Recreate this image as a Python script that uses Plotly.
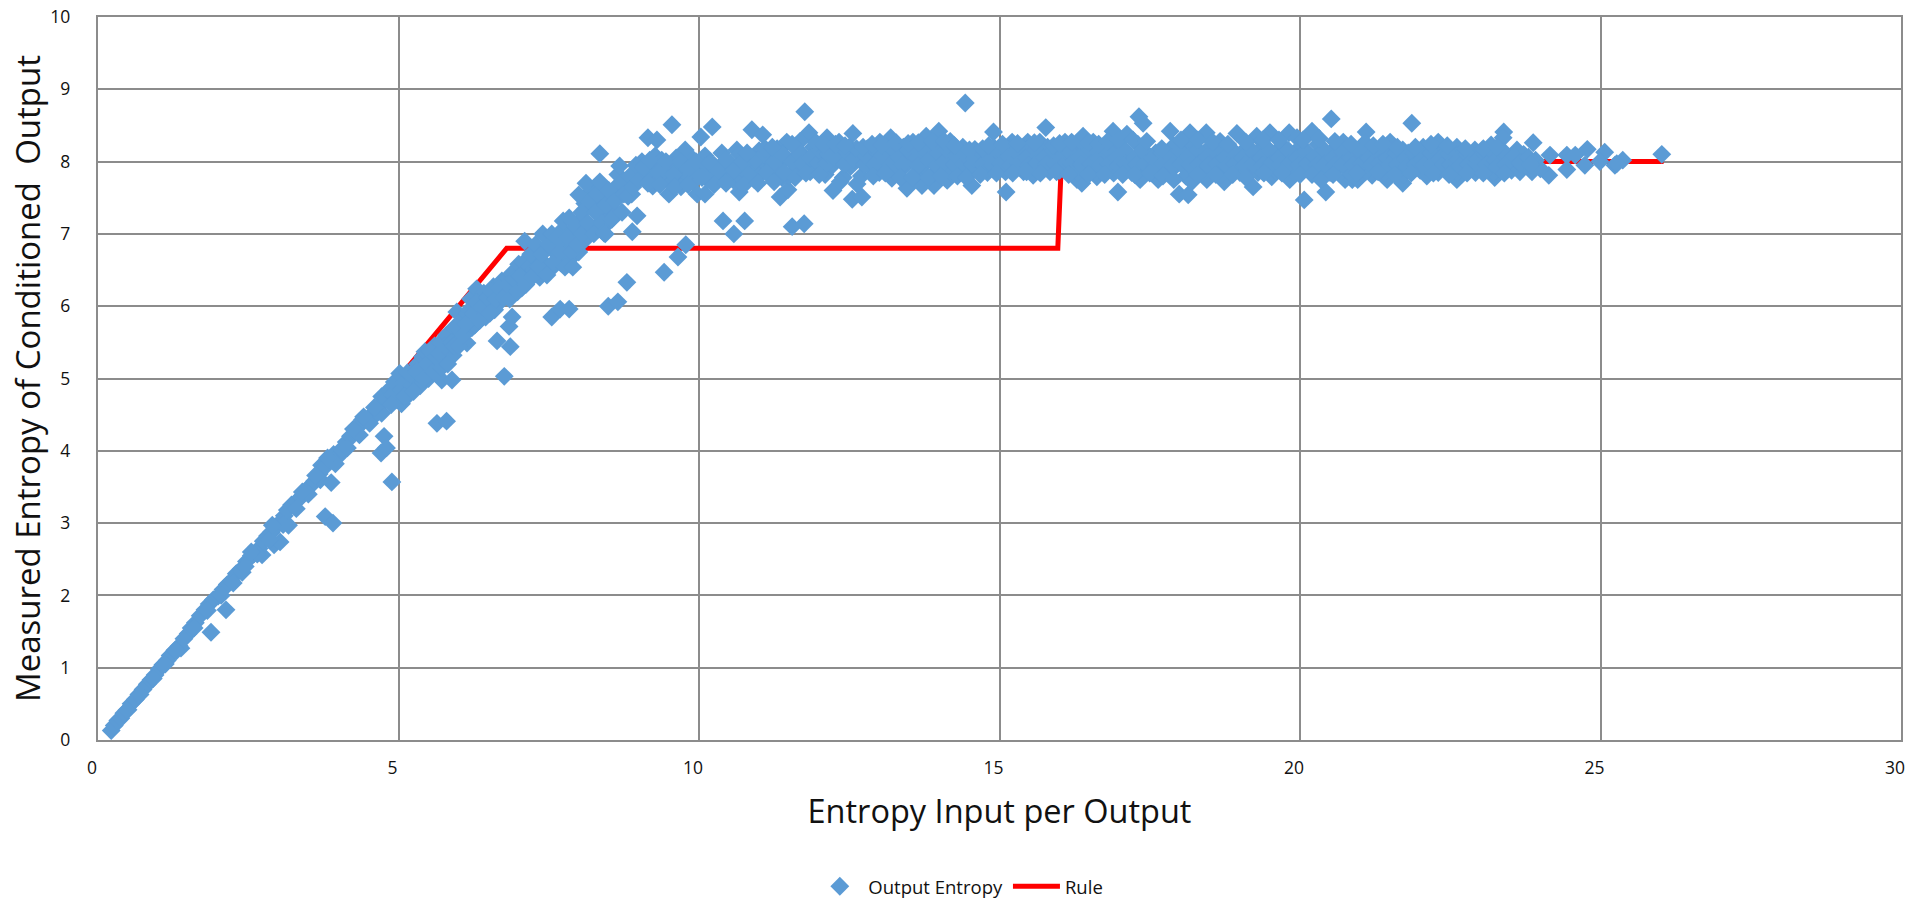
import plotly.graph_objects as go

# (entropy input, measured entropy)
ramp_a = [(0.22,0.13),(0.27,0.2),(0.33,0.27),(0.38,0.3),(0.43,0.37),(0.5,0.42),(0.55,0.5),(0.62,0.56),(0.68,0.63),(0.75,0.7),
(0.82,0.77),(0.88,0.83),(0.95,0.9),(1.02,0.98),(1.08,1.04),(1.15,1.1),(1.2,1.17),(1.28,1.24),(1.35,1.3),(1.38,1.27),
(1.43,1.4),(1.5,1.47),(1.55,1.55),(1.62,1.62),(1.7,1.72),(1.78,1.8),(1.85,1.88),(1.92,1.94),(2.0,1.99),(2.08,2.08),
(2.15,2.15),(2.22,2.2),(2.3,2.3),(2.38,2.36),(2.4,2.32),(2.47,2.47),(2.55,2.55)]
ramp_b = [(2.6,2.58),(2.68,2.65),(2.73,2.56),(2.75,2.75),(2.82,2.82),(2.88,2.87),(2.93,2.7),(2.95,2.95),(3.03,2.74),(3.02,3.0),
(3.1,3.1),(3.17,2.97),(3.15,3.18),(3.22,3.25),(3.3,3.3),(3.38,3.36),(3.45,3.45),(3.52,3.5),(3.6,3.58),(3.68,3.68),
(3.72,3.8),(3.78,3.78),(3.85,3.88),(3.92,3.95),(4.0,3.92),(4.05,4.02),(4.13,4.12),(4.2,4.2),(4.28,4.25),(4.33,4.33),
(4.4,4.43),(4.48,4.42),(4.55,4.5),(4.62,4.5),(4.68,4.62),(4.72,4.75),(4.8,4.72),(4.85,4.85),(4.9,4.78),(4.93,4.95),
(4.98,4.7),(5.02,5.07),(5.05,4.85),(5.05,4.65),(5.1,4.95)]
ramp_edge = [(0.48,0.41),(0.7,0.63),(0.92,0.85),(1.12,1.05),(1.3,1.23),(1.6,1.55),(1.82,1.79),(2.05,2.0),(2.25,2.17),(2.45,2.4),
(2.65,2.57),(2.85,2.77),(3.08,2.98),(3.3,3.2),(3.5,3.4),(3.7,3.6),(3.95,3.82),(4.15,4.04),(4.35,4.22),(4.52,4.38),
(4.72,4.52),(4.88,4.64),(3.4,3.43),(3.62,3.66),(3.82,3.9),(4.25,4.3),(4.42,4.47),(4.6,4.6),(2.55,2.6),(2.9,2.97)]
ramp_c = [(5.15,5.08),(5.18,4.78),(5.22,4.9),(5.28,5.0),(5.32,5.2),(5.36,4.9),(5.4,5.3),(5.44,5.37),(5.45,5.1),(5.5,5.0),
(5.55,5.25),(5.6,5.45),(5.65,5.2),(5.7,5.5),(5.72,4.98),(5.75,5.3),(5.8,5.6),(5.85,5.35),(5.89,4.98),(5.91,5.32),
(5.92,5.7),(5.97,5.92),(6.0,5.55),(6.05,5.8),(6.14,5.49),(6.15,5.9),(6.2,6.1),(6.22,5.7),(6.3,6.24),(6.27,5.74),
(6.35,5.95),(6.42,6.18),(6.45,5.85),(6.52,6.05),(6.58,6.27),(6.6,5.95),(6.69,6.06),(6.72,6.35),(6.8,6.2),(6.88,6.45),
(6.9,6.15),(6.97,6.32),(7.0,6.58),(7.05,6.25),(7.12,6.45)]
ramp_c2 = [(5.1,4.75),(5.2,5.05),(5.25,4.82),(5.3,5.1),(5.35,5.05),(5.42,5.0),(5.48,5.2),(5.52,5.38),(5.58,5.1),(5.62,5.3),
(5.68,5.35),(5.72,5.15),(5.78,5.45),(5.82,5.2),(5.88,5.5),(5.92,5.45),(5.98,5.7),(6.0,5.45),(6.08,5.6),(6.12,5.75),
(6.18,5.95),(6.25,5.9),(6.3,6.05),(6.35,5.8),(6.4,6.0),(6.48,6.12),(6.52,5.9),(6.55,6.2),(6.62,6.1),(6.68,6.25),
(6.75,6.12),(6.82,6.3),(6.85,6.1),(6.92,6.38),(6.98,6.2),(7.02,6.42),(7.08,6.6),(7.12,6.3),(7.18,6.55),(7.25,6.5),
(7.3,6.7),(7.35,6.4),(7.42,6.6),(7.45,6.8),(7.52,6.5),(7.6,6.75),(7.62,6.9),(7.7,6.6),(7.75,6.85),(7.72,7.05),
(7.85,6.65),(7.9,7.0),(7.92,6.85),(8.0,6.75),(8.02,7.18),(8.08,6.9),(8.1,7.42),(8.2,7.08),(8.22,7.6),(8.25,7.35),
(8.32,7.12),(8.35,7.45),(8.4,7.3),(8.42,7.6),(8.48,7.15),(8.52,7.5),(8.58,7.32),(8.62,7.65),(8.65,7.82),(8.78,7.68),(8.88,7.55)]
ramp_d = [(7.1,6.9),(7.2,6.72),(7.22,6.4),(7.28,6.85),(7.33,6.55),(7.4,7.0),(7.38,6.72),(7.47,6.43),(7.5,6.85),(7.55,7.0),
(7.58,6.6),(7.65,6.95),(7.68,6.75),(7.74,7.18),(7.77,6.54),(7.82,6.95),(7.84,7.22),(7.88,6.75),(7.9,6.54),(7.95,7.1),
(7.98,6.85),(8.0,7.54),(8.05,7.0),(8.05,7.3),(8.12,7.7),(8.15,7.15),(8.18,7.45),(8.25,7.0),(8.28,7.3),(8.3,7.55),
(8.35,7.72),(8.38,7.15),(8.42,7.01),(8.45,7.4),(8.5,7.6),(8.55,7.2),(8.6,7.45),(8.68,7.94),(8.7,7.7),(8.72,7.3),
(8.75,7.55),(8.82,7.52),(8.85,7.8),(8.9,7.65),(8.95,7.95),(9.0,7.75)]
low_outliers = [(1.88,1.49),(2.13,1.8),(3.88,3.56),(3.78,3.09),(3.91,3.0),(4.76,4.2),(4.71,3.97),(4.8,4.04),(4.89,3.57),
(5.64,4.38),(5.8,4.41),(6.89,5.85),(6.84,5.72),(6.64,5.52),(6.86,5.44),(6.76,5.03),(7.55,5.85),(7.69,5.96),(7.84,5.96),
(8.49,6.0),(8.65,6.06),(8.8,6.33),(9.42,6.47),(9.65,6.68),(9.78,6.85),(8.89,7.03),(8.97,7.25),(8.44,7.0),
(10.4,7.18),(10.76,7.18),(10.58,7.0),(11.55,7.1),(11.75,7.14)]
high_outliers = [(8.35,8.11),(9.15,8.33),(9.3,8.3),(9.55,8.51),(10.03,8.34),(10.22,8.48),(10.88,8.44),(11.06,8.37),
(11.76,8.69),(11.83,8.4),(14.43,8.81),(14.9,8.41),(15.77,8.47),(17.32,8.62),(17.39,8.53),(20.52,8.59),(21.1,8.41),
(21.86,8.53),(23.39,8.41),(23.38,8.33),(12.56,8.39)]
band_top = [(9.27,8.08),(9.77,8.16),(10.63,8.16),(11.46,8.27),(11.68,8.28),(12.13,8.33),(12.33,8.27),(13.01,8.27),(13.19,8.33),
(13.56,8.27),(13.78,8.35),(13.99,8.42),(14.18,8.28),(14.39,8.2),(14.59,8.17),(15.21,8.27),(15.47,8.27),(15.67,8.27),
(16.09,8.27),(16.3,8.27),(16.39,8.35),(16.56,8.27),(16.89,8.42),(17.12,8.38),(17.84,8.42),(18.17,8.4),(18.44,8.4),
(18.67,8.28),(18.95,8.39),(19.28,8.35),(19.5,8.4),(19.82,8.4),(19.95,8.33),(20.2,8.42),(20.72,8.27),(21.08,8.26),
(21.5,8.27),(21.71,8.16),(22.05,8.2),(22.3,8.27),(22.61,8.2),(22.91,8.16),(23.18,8.23),(23.61,8.16),(23.88,8.26),
(24.16,8.09),(24.44,8.09),(24.58,8.09),(24.78,8.17),(25.07,8.13),(25.37,8.02),(26.02,8.1)]
band_bottom = [(9.23,7.66),(9.5,7.55),(9.97,7.55),(10.1,7.55),(10.67,7.58),(11.35,7.51),(11.48,7.61),(11.85,7.86),(12.23,7.6),
(12.55,7.48),(12.71,7.51),(12.63,7.69),(13.21,7.77),(13.46,7.63),(13.71,7.67),(13.91,7.67),(14.13,7.74),(14.54,7.67),
(15.11,7.58),(15.56,7.81),(15.84,7.86),(16.29,7.75),(16.37,7.7),(16.62,7.79),(16.97,7.58),(17.34,7.75),(17.64,7.75),
(17.99,7.55),(18.14,7.54),(18.45,7.75),(18.74,7.72),(19.22,7.65),(19.53,7.79),(19.83,7.75),(20.07,7.47),(20.43,7.58),
(20.75,7.75),(20.87,7.75),(20.96,7.75),(21.2,7.81),(21.45,7.75),(21.71,7.7),(22.11,7.8),(22.61,7.75),(23.24,7.78),
(23.66,7.86),(23.86,7.86),(24.14,7.81),(24.44,7.89),(24.74,7.95),(24.99,8.0),(25.24,7.95),(25.27,7.97)]
band_fill_a = [(9.05,8.0),(9.12,7.85),(9.2,7.75),(9.25,7.93),(9.38,8.02),(9.4,7.78),(9.5,7.9),(9.62,8.05),(9.65,7.72),(9.75,7.9),
(9.85,7.78),(9.9,8.03),(10.0,7.9),(10.1,8.08),(10.15,7.75),(10.25,7.95),(10.38,8.12),(10.4,7.8),(10.52,7.98),(10.6,7.72),
(10.68,8.1),(10.75,7.87),(10.85,8.02),(10.92,7.75),(11.0,8.15),(11.05,7.92),(11.15,8.05),(11.2,7.8),(11.3,8.18),(11.33,7.92),
(11.45,8.06),(11.5,7.8),(11.6,8.2),(11.62,7.94),(11.75,8.07),(11.8,7.9),(11.9,8.2),(11.93,7.94),(12.03,8.07),(12.1,7.82),
(12.2,8.2),(12.22,7.95),(12.35,8.08),(12.4,7.78)]
band_fill_a2 = [(9.3,7.72),(9.55,7.72),(9.72,7.78),(9.9,7.72),(10.05,7.88),(10.3,7.75),(10.55,7.8),(10.9,7.85),(10.25,7.82),(9.15,7.7),
(9.1,7.95),(9.88,7.88),(9.4,7.95),(9.58,7.95),(10.12,7.95),(10.42,7.92),(10.68,7.8),(11.0,7.8),(11.38,7.78),(9.7,7.65)]
band_fill_b = [(12.5,8.2),(12.52,7.93),(12.65,8.06),(12.7,7.8),(12.8,8.18),(12.83,7.94),(12.95,8.07),(13.0,7.85),(13.1,8.21),
(13.12,7.95),(13.25,8.08),(13.3,7.85),(13.4,8.2),(13.42,7.93),(13.55,8.06),(13.6,7.82),(13.7,8.22),(13.73,7.95),(13.85,8.08),
(13.9,7.83),(14.0,8.24),(14.03,7.94),(14.15,8.07),(14.2,7.85),(14.3,8.15),(14.33,7.95),(14.45,8.05),(14.5,7.85),(14.6,8.13),
(14.63,7.92),(14.75,8.05),(14.8,7.85),(14.9,8.2),(14.93,7.95),(15.05,8.08),(15.1,7.86),(15.2,8.2),(15.23,7.94),(15.35,8.07),
(15.4,7.86),(15.5,8.2),(15.52,7.95),(15.65,8.08),(15.7,7.9),(15.8,8.2),(15.83,7.96),(15.95,8.08),(16.0,7.88)]
band_fill_c = [(16.1,8.2),(16.13,7.94),(16.25,8.07),(16.3,7.85),(16.42,8.22),(16.45,7.93),(16.55,8.06),(16.6,7.85),(16.72,8.2),
(16.74,7.95),(16.85,8.08),(16.9,7.84),(17.0,8.22),(17.03,7.94),(17.15,8.07),(17.2,7.85),(17.3,8.24),(17.33,7.95),(17.45,8.08),
(17.5,7.85),(17.6,8.12),(17.63,7.95),(17.75,8.05),(17.8,7.85),(17.9,8.22),(17.93,7.94),(18.05,8.07),(18.1,7.8),(18.2,8.22),
(18.23,7.94),(18.35,8.07),(18.4,7.85),(18.5,8.2),(18.53,7.95),(18.65,8.08),(18.7,7.82),(18.8,8.16),(18.83,7.94),(18.95,8.07),
(19.0,7.85),(19.1,8.18),(19.13,7.93),(19.25,8.06),(19.3,7.85),(19.4,8.22),(19.43,7.94),(19.55,8.07),(19.6,7.87),(19.7,8.22),(19.73,7.95)]
band_fill_d = [(19.85,8.08),(19.9,7.85),(20.0,8.2),(20.03,7.92),(20.15,8.06),(20.2,7.87),(20.3,8.24),(20.33,7.94),(20.45,8.07),
(20.5,7.85),(20.6,8.2),(20.63,7.93),(20.75,8.06),(20.82,7.85),(20.9,8.18),(20.93,7.94),(21.05,8.07),(21.1,7.87),(21.2,8.18),
(21.23,7.94),(21.35,8.07),(21.4,7.85),(21.5,8.17),(21.53,7.93),(21.65,8.05),(21.72,7.82),(21.8,8.12),(21.83,7.94),(21.95,8.06),
(22.0,7.88),(22.1,8.12),(22.13,7.93),(22.25,8.05),(22.3,7.85),(22.4,8.15),(22.43,7.93),(22.55,8.05),(22.62,7.85),(22.7,8.1),
(22.73,7.92),(22.85,8.04),(22.92,7.85),(23.0,8.1),(23.03,7.92),(23.15,8.03),(23.22,7.85),(23.3,8.12),(23.35,7.93),(23.45,8.05),
(23.52,7.88),(23.6,8.02),(23.72,8.1),(23.75,7.95),(23.92,8.02),(24.0,7.9)]
band_mid_a = [(9.08,7.92),(9.18,8.02),(9.32,7.85),(9.45,8.0),(9.58,7.82),(9.7,8.0),(9.82,7.9),(9.95,8.0),(10.05,7.78),(10.18,7.98),
(10.32,7.87),(10.45,8.02),(10.58,7.88),(10.72,8.0),(10.82,7.82),(10.95,8.02),(11.08,8.1),(11.12,7.85),(11.25,8.0),(11.38,8.1),
(11.42,7.85),(11.55,8.0),(11.68,8.1),(11.72,7.97),(11.85,8.05),(11.98,7.98),(12.0,8.16),(12.12,7.97),(12.15,8.1),(12.28,8.03),
(12.42,7.96),(12.45,8.14),(12.58,8.04),(12.62,8.18),(12.75,7.96),(12.78,8.08),(12.9,8.18),(12.92,7.96),(13.05,8.08),(13.18,7.96),
(13.2,8.2),(13.33,8.06),(13.38,7.96),(13.48,8.16),(13.62,8.05),(13.65,7.94),(13.78,8.14),(13.82,8.02),(13.95,7.95),(13.97,8.12)]
band_mid_b = [(14.08,8.0),(14.12,8.17),(14.25,7.96),(14.28,8.08),(14.4,7.97),(14.42,8.1),(14.55,7.96),(14.58,8.04),(14.7,8.12),(14.72,7.96),
(14.85,8.06),(14.88,7.95),(15.0,8.16),(15.02,7.97),(15.15,8.07),(15.18,7.95),(15.3,8.16),(15.32,7.97),(15.45,8.06),(15.48,7.95),
(15.6,8.16),(15.62,7.98),(15.75,8.06),(15.78,7.96),(15.9,8.15),(15.92,7.97),(16.03,8.05),(16.05,7.93),(16.18,8.12),(16.2,7.97),
(16.33,8.06),(16.36,7.96),(16.5,8.16),(16.52,7.97),(16.65,8.05),(16.68,7.95),(16.8,8.16),(16.82,7.97),(16.95,8.05),(16.98,7.95),
(17.08,8.16),(17.1,7.97),(17.25,8.05),(17.28,7.96),(17.38,8.17),(17.42,7.97),(17.55,8.04),(17.58,7.94),(17.7,8.12),(17.72,7.97)]
band_mid_c = [(17.85,8.06),(17.88,7.95),(18.0,8.15),(18.02,7.97),(18.14,8.07),(18.17,7.95),(18.3,8.16),(18.32,7.97),(18.45,8.06),(18.48,7.95),
(18.6,8.14),(18.62,7.97),(18.75,8.05),(18.78,7.94),(18.9,8.14),(18.92,7.97),(19.05,8.05),(19.08,7.95),(19.2,8.15),(19.22,7.97),
(19.35,8.05),(19.38,7.95),(19.5,8.15),(19.52,7.97),(19.65,8.05),(19.68,7.96),(19.8,8.16),(19.82,7.97),(19.95,8.05),(19.98,7.95),
(20.1,8.15),(20.12,7.97),(20.25,8.06),(20.28,7.95),(20.4,8.16),(20.42,7.97),(20.55,8.05),(20.58,7.95),(20.7,8.14),(20.72,7.97),
(20.85,8.05),(20.88,7.95),(21.0,8.14),(21.02,7.97),(21.15,8.05),(21.18,7.95),(21.3,8.14),(21.32,7.97),(21.45,8.05),(21.48,7.95)]
band_mid_d = [(21.6,8.12),(21.62,7.96),(21.75,8.04),(21.78,7.93),(21.9,8.12),(21.92,7.96),(22.03,8.04),(22.06,7.95),(22.18,8.12),(22.2,7.96),
(22.33,8.04),(22.36,7.94),(22.48,8.1),(22.5,7.96),(22.63,8.03),(22.66,7.94),(22.78,8.1),(22.8,7.96),(22.95,8.03),(22.97,7.94),
(23.08,8.1),(23.1,7.96),(23.25,8.02),(23.28,7.93),(23.4,8.13),(23.42,7.96),(23.56,8.08),(23.66,7.98),(23.8,8.06),(23.84,7.96)]
band_upper_row = [(10.8,8.12),(11.1,8.18),(11.22,8.2),(11.55,8.24),(11.95,8.26),(12.07,8.24),(12.27,8.24),(12.43,8.22),(12.73,8.2),(12.88,8.24),
(13.05,8.23),(13.28,8.26),(13.48,8.25),(13.65,8.26),(13.88,8.28),(14.08,8.28),(14.25,8.22),(14.5,8.16),(14.72,8.18),(14.82,8.22),
(15.05,8.24),(15.3,8.25),(15.58,8.26),(15.9,8.22),(16.0,8.25),(16.2,8.27),(16.48,8.26),(16.65,8.24),(16.8,8.28),(16.98,8.3),
(17.22,8.3),(17.45,8.28),(17.7,8.18),(18.02,8.3),(18.3,8.3),(18.55,8.27),(18.8,8.24),(19.1,8.27),(19.38,8.3),(19.65,8.3),
(20.05,8.3),(20.32,8.32),(20.58,8.28),(20.85,8.24),(21.22,8.22),(21.38,8.24),(21.62,8.2),(21.92,8.2),(22.18,8.24),(22.45,8.22),
(22.75,8.18),(23.05,8.18),(23.28,8.2)]
band_lower_row = [(9.35,7.68),(9.6,7.65),(9.82,7.68),(10.25,7.68),(10.45,7.7),(10.75,7.68),(10.98,7.7),(11.25,7.72),(11.6,7.78),(11.78,7.84),
(12.0,7.82),(12.35,7.72),(12.9,7.8),(13.1,7.84),(13.35,7.78),(13.55,7.78),(13.82,7.78),(14.02,7.8),(14.3,7.8),(14.45,7.78),
(14.68,7.82),(14.95,7.84),(15.22,7.84),(15.45,7.86),(15.68,7.84),(15.95,7.86),(16.15,7.82),(16.48,7.82),(16.75,7.82),(17.05,7.82),
(17.25,7.82),(17.5,7.84),(17.72,7.8),(17.9,7.75),(18.2,7.72),(18.3,7.82),(18.6,7.82),(18.88,7.82),(19.1,7.78),(19.4,7.84),
(19.7,7.84),(20.0,7.82),(20.2,7.82),(20.35,7.75),(20.55,7.82),(20.95,7.84),(21.3,7.86),(21.58,7.82),(21.85,7.84),(22.22,7.84),
(22.48,7.82),(22.78,7.84),(23.05,7.84),(23.4,7.84)]

output_series = ramp_a + ramp_b + ramp_edge + ramp_c + ramp_c2 + ramp_d + low_outliers + high_outliers + band_top + band_bottom \
    + band_fill_a + band_fill_a2 + band_fill_b + band_fill_c + band_fill_d + band_mid_a + band_mid_b + band_mid_c + band_mid_d \
    + band_upper_row + band_lower_row
output_x = [p[0] for p in output_series]
output_y = [p[1] for p in output_series]

rule_x = [0.22, 6.8, 6.95, 15.97, 16.03, 26.05]
rule_y = [0.22, 6.8, 6.8, 6.8, 8.0, 8.0]

x_ticks = [0, 5, 10, 15, 20, 25, 30]
y_ticks = list(range(0, 11))

FONT = "Open Sans"
GRID = "#8c8c8c"
BLUE = "#5b9bd5"

fig = go.Figure()
fig.add_trace(go.Scatter(x=rule_x, y=rule_y, mode="lines", name="Rule", legendrank=2,
                         line=dict(color="#ff0000", width=5)))
fig.add_trace(go.Scatter(x=output_x, y=output_y, mode="markers", name="Output Entropy", legendrank=1,
                         marker=dict(symbol="diamond", size=14.5, color=BLUE, line=dict(width=0))))

axis = dict(showgrid=True, gridcolor=GRID, gridwidth=2.4, zeroline=False, showline=True, linecolor=GRID,
            linewidth=2.4, mirror=True, ticks="", tickfont=dict(family=FONT, size=17.5, color="#111111"))
fig.update_layout(
    width=1906, height=900, autosize=False,
    margin=dict(l=98, r=5, t=17, b=160, pad=0, autoexpand=False),
    paper_bgcolor="white", plot_bgcolor="white",
    font=dict(family=FONT, color="#111111"),
    showlegend=True,
    legend=dict(orientation="h", x=0.478, xanchor="center", y=-0.203, yanchor="middle",
                font=dict(family=FONT, size=18.5), itemwidth=47),
    xaxis=dict(axis, range=[0, 30], tickvals=x_ticks, ticklabelshift=-6, ticklabelstandoff=11,
               title=dict(text="Entropy Input per Output", font=dict(family=FONT, size=32.5), standoff=22)),
    yaxis=dict(axis, range=[0, 10], tickvals=y_ticks, ticklabelstandoff=22,
               title=dict(text="Measured Entropy of Conditioned  Output", font=dict(family=FONT, size=33), standoff=0)),
)
fig.write_html("out.html", post_script="document.body.style.margin='0';", config={"displayModeBar": False})
